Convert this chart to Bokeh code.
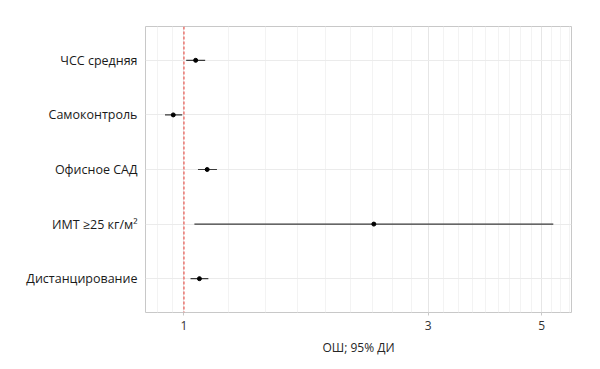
from bokeh.plotting import figure
from bokeh.models import FixedTicker, FactorRange, Span, ColumnDataSource
from bokeh.embed import file_html
from bokeh.resources import INLINE

# Data (bottom to top)
categories = ["Дистанцирование", "ИМТ ≥25 кг/м²", "Офисное САД", "Самоконтроль", "ЧСС средняя"]
odds_ratio = [1.072, 2.35, 1.11, 0.953, 1.054]
ci_low = [1.03, 1.048, 1.065, 0.918, 1.01]
ci_high = [1.116, 5.27, 1.16, 0.992, 1.10]
x_ticks = [1, 3, 5]
x_minor = [0.889, 0.951, 1.222, 1.444, 1.667, 1.889, 2.111, 2.333, 2.556, 2.778,
           3.222, 3.444, 3.667, 3.889, 4.111, 4.333, 4.556, 4.778, 5.222, 5.444, 5.667]

src = ColumnDataSource(dict(cat=categories, orr=odds_ratio, lo=ci_low, hi=ci_high))

p = figure(x_axis_type="log", y_range=FactorRange(factors=categories, range_padding=0.12,
                                                   range_padding_units="absolute"),
           x_range=(0.841, 5.72),
           frame_width=426, frame_height=286,
           min_border_left=145, min_border_right=21, min_border_top=26, min_border_bottom=41,
           output_backend="svg", toolbar_location=None)

p.background_fill_color = "white"
p.border_fill_color = "white"
p.outline_line_color = "#c8c8c8"
p.outline_line_width = 1

p.xaxis.ticker = FixedTicker(ticks=x_ticks, minor_ticks=x_minor)
p.xaxis.major_label_overrides = {1: "1", 3: "3", 5: "5"}
p.xgrid.grid_line_color = "#e6e6e6"
p.xgrid.minor_grid_line_color = "#f3f3f3"
p.ygrid.grid_line_color = "#ebebeb"

p.xaxis.axis_line_color = None
p.xaxis.minor_tick_line_color = None
p.xaxis.major_tick_line_color = "#c8c8c8"
p.xaxis.major_tick_in = 0
p.xaxis.major_tick_out = 3
p.xaxis.major_label_standoff = 4
p.xaxis.major_label_text_font = "Open Sans"
p.xaxis.major_label_text_font_size = "12px"
p.xaxis.major_label_text_color = "#333333"
p.xaxis.axis_label = "ОШ; 95% ДИ"
p.xaxis.axis_label_text_font = "Open Sans"
p.xaxis.axis_label_text_font_size = "12px"
p.xaxis.axis_label_text_font_style = "normal"
p.xaxis.axis_label_text_color = "#262626"
p.xaxis.axis_label_standoff = 6

p.yaxis.axis_line_color = None
p.yaxis.major_tick_line_color = None
p.yaxis.minor_tick_line_color = None
p.yaxis.major_tick_out = 0
p.yaxis.major_tick_in = 0
p.yaxis.major_label_standoff = 8
p.yaxis.major_label_text_font = "Open Sans"
p.yaxis.major_label_text_font_size = "12.5px"
p.yaxis.major_label_text_color = "#1a1a1a"

p.add_layout(Span(location=1, dimension="height", line_color="#e8382f",
                  line_dash="3 2", line_width=1))

p.segment(x0="lo", x1="hi", y0="cat", y1="cat", source=src, line_color="#3a3a3a", line_width=1.1)
p.scatter(x="orr", y="cat", source=src, size=4, color="black")

open("out.html", "w").write(file_html(p, INLINE))
